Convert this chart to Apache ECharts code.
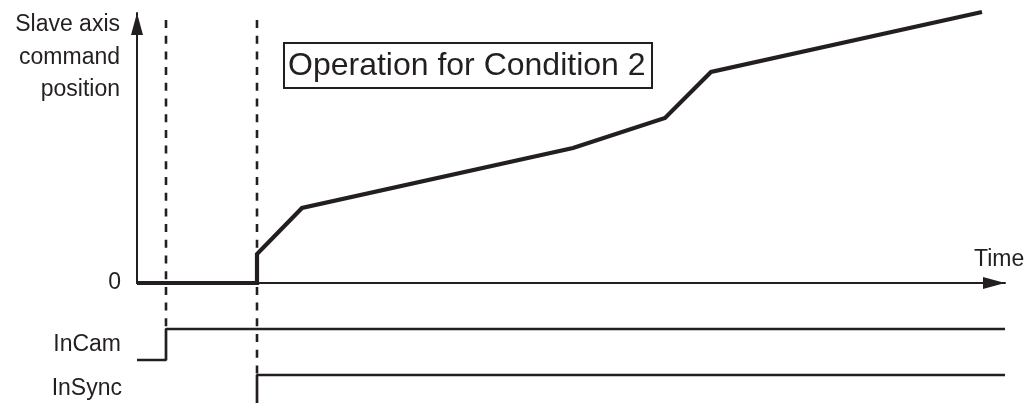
<!DOCTYPE html>
<html>
<head>
<meta charset="utf-8">
<style>
  html, body { margin: 0; padding: 0; background: #ffffff; }
  #chart { width: 1033px; height: 403px; }
</style>
<script src="https://cdn.jsdelivr.net/npm/echarts@6/dist/echarts.min.js"></script>
</head>
<body>
<div id="chart"></div>
<script>
// Slave axis command position over time (schematic units)
const timeValues     = [0, 120, 120, 165, 436, 528, 574, 845];
const positionValues = [0,   0,  29,  75, 135, 165, 211, 271];

// Event times marked by dashed guides
const camStartTime  = 29;
const syncStartTime = 120;

// Status signals (0 = off, 1 = on)
const inCamTimes   = [0, 29, 29, 868];
const inCamLevels  = [0, 0, 1, 1];
const inSyncTimes  = [120, 120, 868];
const inSyncLevels = [0, 1, 1];

// Axis extents and labels
const timeMax     = 868;
const positionMax = 270;
const yTickLabels = ['0'];
const yAxisTitle  = ['Slave axis', 'command', 'position'];
const xAxisTitle  = 'Time';
const signalNames = ['InCam', 'InSync'];
const boxText     = 'Operation for Condition 2';

const INK = '#231f20';
const FONT = '"Liberation Sans", Arial, Helvetica, sans-serif';

const zip = (xs, ys) => xs.map((x, i) => [x, ys[i]]);

const chart = echarts.init(document.getElementById('chart'));

const hiddenX = (gridIndex) => ({
  type: 'value', gridIndex, min: 0, max: timeMax, show: false
});
const hiddenY = (gridIndex) => ({
  type: 'value', gridIndex, min: 0, max: 1, show: false
});

const guide = (t, axisIndex) => ({
  type: 'line', xAxisIndex: axisIndex, yAxisIndex: axisIndex,
  data: [[t, 1], [t, 0]],
  symbol: 'none', z: 1,
  lineStyle: { color: INK, width: 2.6, type: [8, 7.7] }
});

chart.setOption({
  animation: false,
  backgroundColor: '#ffffff',
  textStyle: { fontFamily: FONT, color: INK },
  grid: [
    { left: 137, right: 28, top: 13, bottom: 120 },   // position plot
    { left: 137, right: 28, top: 20, bottom: 74 },    // guide down to InCam edge
    { left: 137, right: 28, top: 20, bottom: 28 },    // guide down to InSync edge
    { left: 137, right: 28, top: 329, height: 31 },   // InCam
    { left: 137, right: 28, top: 375, bottom: 0 }     // InSync
  ],
  xAxis: [
    {
      type: 'value', gridIndex: 0, min: 0, max: timeMax,
      axisLine: {
        show: true, onZero: false,
        lineStyle: { color: INK, width: 2 },
        symbol: ['none', 'triangle'], symbolSize: [12, 22], symbolOffset: [0, -11]
      },
      axisTick: { show: false }, axisLabel: { show: false }, splitLine: { show: false }
    },
    hiddenX(1), hiddenX(2), hiddenX(3), hiddenX(4)
  ],
  yAxis: [
    {
      type: 'value', gridIndex: 0, min: 0, max: positionMax, interval: positionMax,
      axisLine: {
        show: true, onZero: false,
        lineStyle: { color: INK, width: 2 },
        symbol: ['none', 'triangle'], symbolSize: [12, 22], symbolOffset: [0, -11]
      },
      axisTick: { show: false },
      splitLine: { show: false },
      axisLabel: {
        margin: 16, fontSize: 23, color: INK, fontFamily: FONT,
        formatter: (v) => (v === 0 ? yTickLabels[0] : '')
      }
    },
    hiddenY(1), hiddenY(2), hiddenY(3), hiddenY(4)
  ],
  series: [
    {
      type: 'line', xAxisIndex: 0, yAxisIndex: 0,
      data: zip(timeValues, positionValues),
      symbol: 'none', clip: false, z: 5,
      lineStyle: { color: INK, width: 4.2, join: 'miter' }
    },
    guide(camStartTime, 1),
    guide(syncStartTime, 2),
    {
      type: 'line', xAxisIndex: 3, yAxisIndex: 3,
      data: zip(inCamTimes, inCamLevels),
      symbol: 'none', clip: false, z: 3,
      lineStyle: { color: INK, width: 2.7 }
    },
    {
      type: 'line', xAxisIndex: 4, yAxisIndex: 4,
      data: zip(inSyncTimes, inSyncLevels),
      symbol: 'none', clip: false, z: 3,
      lineStyle: { color: INK, width: 2.7 }
    }
  ],
  graphic: [
    ...yAxisTitle.map((line, i) => ({
      type: 'text', x: 120, y: 25 + i * 32.5, z: 10,
      style: { text: line, font: '23px ' + FONT, fill: INK, align: 'right', verticalAlign: 'middle' }
    })),
    {
      type: 'text', x: 974, y: 260, z: 10,
      style: { text: xAxisTitle, font: '23px ' + FONT, fill: INK, align: 'left', verticalAlign: 'middle' }
    },
    {
      type: 'text', x: 121, y: 345, z: 10,
      style: { text: signalNames[0], font: '23px ' + FONT, fill: INK, align: 'right', verticalAlign: 'middle' }
    },
    {
      type: 'text', x: 122, y: 389, z: 10,
      style: { text: signalNames[1], font: '23px ' + FONT, fill: INK, align: 'right', verticalAlign: 'middle' }
    },
    {
      type: 'group', x: 284, y: 43, z: 10,
      children: [
        {
          type: 'rect', shape: { x: 0, y: 0, width: 368, height: 45 },
          style: { fill: '#ffffff', stroke: INK, lineWidth: 2 }
        },
        {
          type: 'text', x: 4, y: 23,
          style: { text: boxText, font: '32px ' + FONT, fill: INK, align: 'left', verticalAlign: 'middle' }
        }
      ]
    }
  ]
});
</script>
</body>
</html>
